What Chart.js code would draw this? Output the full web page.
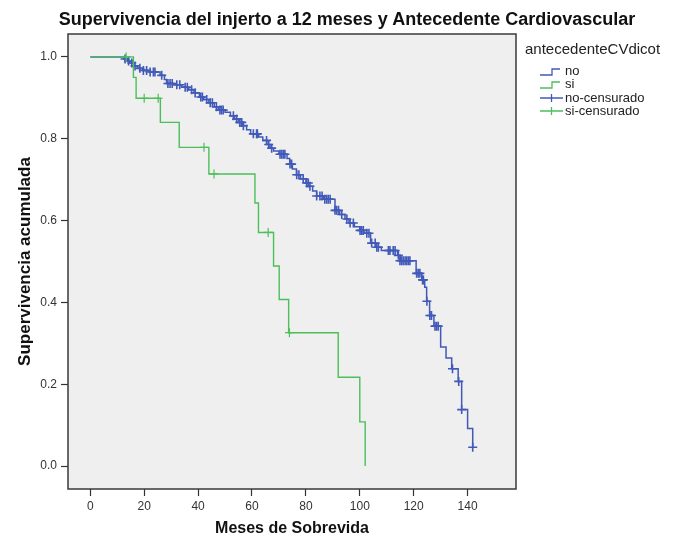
<!DOCTYPE html>
<html>
<head>
<meta charset="utf-8">
<script src="https://cdn.jsdelivr.net/npm/chart.js@4/dist/chart.umd.min.js"></script>
<style>
  html, body { margin: 0; padding: 0; background: #ffffff; }
  #wrap { position: relative; width: 680px; height: 538px; font-family: "Liberation Sans", Arial, sans-serif; }
  #title { position: absolute; left: 7px; top: 8px; width: 680px; text-align: center; font-weight: bold; font-size: 18px; line-height: 22px; color: #111; }
  #legend { position: absolute; left: 525px; top: 40px; color: #222; }
  #legend .lt { font-size: 15px; line-height: 18px; margin-bottom: 6px; }
  #legend .it { position: relative; height: 13.4px; font-size: 13px; line-height: 13.4px; padding-left: 40px; }
  #legend svg { position: absolute; left: 15px; top: 0; }
  canvas { position: absolute; left: 0; top: 0; }
</style>
</head>
<body>
<div id="wrap">
  <canvas id="c" width="680" height="538"></canvas>
  <div id="title">Supervivencia del injerto a 12 meses y Antecedente Cardiovascular</div>
  <div id="legend">
    <div class="lt">antecedenteCVdicot</div>
    <div class="it"><svg width="24" height="14"><path d="M0,11 H12 V5 H20" fill="none" stroke="#4159b8" stroke-width="1.3"/></svg>no</div>
    <div class="it"><svg width="24" height="14"><path d="M0,11 H12 V5 H20" fill="none" stroke="#4cbf5a" stroke-width="1.3"/></svg>si</div>
    <div class="it"><svg width="24" height="14"><path d="M0,7 H23 M11.5,3 V11" fill="none" stroke="#4159b8" stroke-width="1.3"/></svg>no-censurado</div>
    <div class="it"><svg width="24" height="14"><path d="M0,7 H23 M11.5,3 V11" fill="none" stroke="#4cbf5a" stroke-width="1.3"/></svg>si-censurado</div>
  </div>
</div>
<script>
// ---- data ----
const xTickValues = [0, 20, 40, 60, 80, 100, 120, 140];
const yTickValues = [0.0, 0.2, 0.4, 0.6, 0.8, 1.0];

// "no" group: Kaplan-Meier step times (months) and survival after each step
const noStepTimes = [0, 12.5, 13.8, 14.7, 16.2, 17.5, 19.5, 22, 25.9, 27.5, 28.3, 31, 34, 36.5, 38.5, 40.5, 42, 44, 46, 47.5, 50, 52, 53.5, 55, 56.5, 58, 59.5, 62.5, 64, 65.5, 66.7, 68, 70, 73, 74, 75, 76.5, 78, 80, 81, 82.5, 84, 86.5, 90.8, 92.5, 94.5, 96, 98, 100, 101.5, 104, 106, 108, 114, 115, 120.9, 123, 124.1, 124.8, 125.9, 127.5, 130, 132, 134.1, 136.5, 137.8, 140, 141.9];
const noStepSurv  = [1.0, 0.995, 0.99, 0.985, 0.978, 0.972, 0.967, 0.963, 0.955, 0.945, 0.935, 0.932, 0.926, 0.92, 0.912, 0.902, 0.896, 0.888, 0.878, 0.870, 0.865, 0.856, 0.848, 0.840, 0.832, 0.822, 0.812, 0.804, 0.796, 0.786, 0.777, 0.770, 0.762, 0.752, 0.738, 0.726, 0.712, 0.702, 0.692, 0.684, 0.672, 0.660, 0.652, 0.625, 0.615, 0.604, 0.594, 0.585, 0.576, 0.569, 0.545, 0.535, 0.527, 0.515, 0.502, 0.471, 0.455, 0.437, 0.403, 0.368, 0.342, 0.291, 0.264, 0.238, 0.207, 0.138, 0.092, 0.046];

// "si" group
const siStepTimes = [0, 16, 17, 26, 33, 44, 61.1, 62.4, 68, 70.1, 73.6, 92, 100, 102];
const siStepSurv  = [1.0, 0.95, 0.899, 0.84, 0.779, 0.714, 0.643, 0.571, 0.489, 0.407, 0.326, 0.217, 0.108, 0.0];

// censored observations
const noCensTimes = [12.9, 14.2, 15.4, 16.6, 18.4, 19.7, 20.9, 22.2, 23.4, 24.0, 26.5, 28.8, 29.6, 30.4, 32.1, 33.2, 35.2, 36.0, 37.6, 38.9, 41.0, 41.6, 43.2, 44.5, 45.3, 46.8, 48.1, 48.7, 49.3, 53.1, 54.3, 55.5, 56.2, 56.8, 60.5, 61.7, 62.0, 65.4, 66.2, 67.3, 70.4, 71.0, 71.6, 72.2, 74.1, 74.7, 76.6, 77.4, 79.0, 80.3, 80.9, 81.5, 84.0, 85.2, 86.0, 87.0, 87.7, 88.3, 89.0, 90.8, 91.4, 92.1, 93.3, 95.2, 96.4, 97.6, 100.1, 100.7, 101.3, 102.6, 103.4, 104.4, 105.7, 106.3, 106.9, 110.6, 111.2, 112.4, 113.1, 114.3, 114.9, 115.5, 116.1, 116.8, 117.4, 118.0, 118.6, 121.1, 121.7, 122.3, 123.3, 123.6, 124.9, 126.0, 126.6, 127.9, 128.5, 129.1, 134.4, 136.7, 137.8, 141.9];
const noCensSurv  = [0.995, 0.99, 0.985, 0.978, 0.972, 0.967, 0.967, 0.963, 0.963, 0.963, 0.955, 0.935, 0.935, 0.935, 0.932, 0.932, 0.926, 0.926, 0.92, 0.912, 0.902, 0.902, 0.896, 0.888, 0.888, 0.878, 0.870, 0.870, 0.870, 0.856, 0.848, 0.840, 0.840, 0.832, 0.812, 0.812, 0.812, 0.796, 0.786, 0.777, 0.762, 0.762, 0.762, 0.762, 0.738, 0.738, 0.712, 0.712, 0.702, 0.692, 0.692, 0.684, 0.660, 0.660, 0.660, 0.652, 0.652, 0.652, 0.652, 0.625, 0.625, 0.625, 0.615, 0.604, 0.594, 0.594, 0.576, 0.576, 0.576, 0.569, 0.569, 0.545, 0.545, 0.535, 0.535, 0.527, 0.527, 0.527, 0.527, 0.515, 0.502, 0.502, 0.502, 0.502, 0.502, 0.502, 0.502, 0.471, 0.471, 0.471, 0.455, 0.455, 0.403, 0.368, 0.368, 0.342, 0.342, 0.342, 0.238, 0.207, 0.138, 0.046];
const siCensTimes = [13.3, 20, 25.2, 42.2, 45.9, 66, 73.9];
const siCensSurv  = [1.0, 0.899, 0.899, 0.779, 0.714, 0.571, 0.326];

// ---- styling ----
const BLUE = '#4159b8';
const GREEN = '#4cbf5a';
const pts = (xs, ys) => xs.map((x, i) => ({ x: x, y: ys[i] }));

const framePlugin = {
  id: 'frame',
  beforeDraw(chart) {
    const { ctx, chartArea: a } = chart;
    ctx.save();
    ctx.fillStyle = '#efefef';
    ctx.fillRect(a.left, a.top, a.right - a.left, a.bottom - a.top);
    ctx.restore();
  },
  afterDraw(chart) {
    const { ctx, chartArea: a } = chart;
    ctx.save();
    ctx.strokeStyle = '#3a3a3a';
    ctx.lineWidth = 1.5;
    ctx.strokeRect(a.left, a.top, a.right - a.left, a.bottom - a.top);
    ctx.restore();
  }
};

new Chart(document.getElementById('c'), {
  type: 'line',
  data: {
    datasets: [
      { label: 'si-censurado', data: pts(siCensTimes, siCensSurv), showLine: false, pointStyle: 'cross', pointRadius: 4.5, pointBorderWidth: 1.2, pointBorderColor: GREEN, borderColor: GREEN, order: 0 },
      { label: 'si', data: pts(siStepTimes, siStepSurv), stepped: 'before', borderColor: GREEN, borderWidth: 1.4, pointRadius: 0, fill: false, order: 1 },
      { label: 'no-censurado', data: pts(noCensTimes, noCensSurv), showLine: false, pointStyle: 'cross', pointRadius: 4.5, pointBorderWidth: 1.6, pointBorderColor: BLUE, borderColor: BLUE, order: 2 },
      { label: 'no', data: pts(noStepTimes, noStepSurv), stepped: 'before', borderColor: BLUE, borderWidth: 1.5, pointRadius: 0, fill: false, order: 3 }
    ]
  },
  options: {
    responsive: false,
    animation: false,
    devicePixelRatio: 1,
    layout: { padding: { top: 34, right: 164, left: 0, bottom: 0 } },
    plugins: { legend: { display: false }, tooltip: { enabled: false }, title: { display: false } },
    scales: {
      x: {
        type: 'linear',
        min: -8.27,
        max: 157.96,
        afterBuildTicks: s => { s.ticks = xTickValues.map(v => ({ value: v })); },
        afterFit: s => { s.height = 49; },
        grid: { drawOnChartArea: false, drawTicks: true, tickLength: 7, tickColor: '#333', tickWidth: 1.2 },
        border: { display: false },
        ticks: { color: '#333', font: { family: 'Liberation Sans', size: 12 }, padding: 3, maxRotation: 0, callback: v => String(v) },
        title: { display: true, text: 'Meses de Sobrevida', color: '#111', font: { family: 'Liberation Sans', size: 16, weight: 'bold' }, padding: { top: 0, bottom: 0 } }
      },
      y: {
        min: -0.056,
        max: 1.056,
        afterBuildTicks: s => { s.ticks = yTickValues.map(v => ({ value: v })); },
        afterFit: s => { s.width = 68; },
        grid: { drawOnChartArea: false, drawTicks: true, tickLength: 7, tickColor: '#333', tickWidth: 1.2 },
        border: { display: false },
        ticks: { color: '#333', font: { family: 'Liberation Sans', size: 12 }, padding: 4, callback: v => Number(v).toFixed(1) },
        title: { display: true, text: 'Supervivencia acumulada', color: '#111', font: { family: 'Liberation Sans', size: 17, weight: 'bold' }, padding: { top: 15, bottom: 0 } }
      }
    }
  },
  plugins: [framePlugin]
});
</script>
</body>
</html>
